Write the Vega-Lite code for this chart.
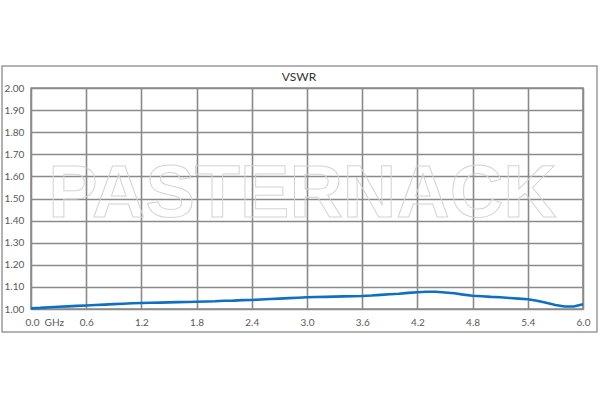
{
  "$schema": "https://vega.github.io/schema/vega-lite/v6.json",
  "autosize": "none",
  "width": 552,
  "height": 221,
  "padding": {"left": 31, "top": 88, "right": 17, "bottom": 91},
  "background": "white",
  "config": {
    "view": {"stroke": "#8a8a8a", "strokeWidth": 1.6},
    "axis": {"labelFont": "Lato", "labelFontSize": 10, "labelColor": "#595959", "gridColor": "#8a8a8a", "gridWidth": 1.6, "gridOpacity": 1, "domain": false, "ticks": false, "tickSize": 0, "title": null, "labelOverlap": false}
  },
  "datasets": {
    "vswr": [
      {"f": 0.0, "v": 1.003}, {"f": 0.1, "v": 1.005}, {"f": 0.2, "v": 1.008}, {"f": 0.3, "v": 1.010},
      {"f": 0.4, "v": 1.012}, {"f": 0.5, "v": 1.014}, {"f": 0.6, "v": 1.016}, {"f": 0.7, "v": 1.018},
      {"f": 0.8, "v": 1.020}, {"f": 0.9, "v": 1.022}, {"f": 1.0, "v": 1.024}, {"f": 1.1, "v": 1.026},
      {"f": 1.2, "v": 1.027}, {"f": 1.3, "v": 1.028}, {"f": 1.4, "v": 1.029}, {"f": 1.5, "v": 1.030},
      {"f": 1.6, "v": 1.031}, {"f": 1.7, "v": 1.032}, {"f": 1.8, "v": 1.033}, {"f": 1.9, "v": 1.034},
      {"f": 2.0, "v": 1.035}, {"f": 2.1, "v": 1.037}, {"f": 2.2, "v": 1.038}, {"f": 2.3, "v": 1.040},
      {"f": 2.4, "v": 1.041}, {"f": 2.5, "v": 1.043}, {"f": 2.6, "v": 1.045}, {"f": 2.7, "v": 1.047},
      {"f": 2.8, "v": 1.049}, {"f": 2.9, "v": 1.051}, {"f": 3.0, "v": 1.053}, {"f": 3.1, "v": 1.054},
      {"f": 3.2, "v": 1.055}, {"f": 3.3, "v": 1.056}, {"f": 3.4, "v": 1.057}, {"f": 3.5, "v": 1.058},
      {"f": 3.6, "v": 1.059}, {"f": 3.7, "v": 1.061}, {"f": 3.8, "v": 1.064}, {"f": 3.9, "v": 1.067},
      {"f": 4.0, "v": 1.069}, {"f": 4.1, "v": 1.073}, {"f": 4.2, "v": 1.076}, {"f": 4.3, "v": 1.078},
      {"f": 4.4, "v": 1.078}, {"f": 4.5, "v": 1.075}, {"f": 4.6, "v": 1.071}, {"f": 4.7, "v": 1.065},
      {"f": 4.8, "v": 1.060}, {"f": 4.9, "v": 1.058}, {"f": 5.0, "v": 1.055}, {"f": 5.1, "v": 1.053},
      {"f": 5.2, "v": 1.050}, {"f": 5.3, "v": 1.047}, {"f": 5.4, "v": 1.044}, {"f": 5.5, "v": 1.037},
      {"f": 5.6, "v": 1.028}, {"f": 5.7, "v": 1.018}, {"f": 5.8, "v": 1.011}, {"f": 5.9, "v": 1.011},
      {"f": 6.0, "v": 1.021}
    ],
    "frame": [{"x1": -0.315, "x2": 6.152, "y1": 0.896, "y2": 2.0995}],
    "labels": [
      {"x": 2.95, "y": 1.516, "t": "PASTERNACK", "kind": "wm"},
      {"x": 2.913, "y": 2.05, "t": "VSWR", "kind": "title"}
    ]
  },
  "layer": [
    {
      "data": {"name": "frame"},
      "mark": {"type": "rect", "fill": null, "stroke": "#9a9a9a", "strokeWidth": 1.5, "clip": false},
      "encoding": {
        "x": {"field": "x1", "type": "quantitative", "scale": {"domain": [0, 6], "nice": false, "zero": false},
              "axis": {"values": [0, 0.6, 1.2, 1.8, 2.4, 3.0, 3.6, 4.2, 4.8, 5.4, 6.0], "tickCount": 30, "format": ".1f", "labelExpr": "datum.value == 0 ? '0.0\u00a0\u00a0GHz' : datum.label", "labelAlign": {"condition": {"test": "datum.value == 0", "value": "left"}, "value": "center"}, "labelOffset": {"condition": {"test": "datum.value == 0", "value": -6}, "value": 0}, "labelPadding": 8, "labelFlush": false}},
        "x2": {"field": "x2"},
        "y": {"field": "y1", "type": "quantitative", "scale": {"domain": [1, 2], "nice": false, "zero": false},
              "axis": {"values": [1, 1.1, 1.2, 1.3, 1.4, 1.5, 1.6, 1.7, 1.8, 1.9, 2.0], "tickCount": 30, "format": ".2f", "labelAlign": "left", "labelPadding": 27}},
        "y2": {"field": "y2"}
      }
    },
    {
      "data": {"name": "labels"},
      "transform": [{"filter": "datum.kind == 'wm'"}],
      "mark": {"type": "text", "font": "Liberation Sans", "fontWeight": "bold", "fontSize": 74, "fillOpacity": 0, "stroke": "#d4d4d4", "strokeWidth": 1, "align": "center", "baseline": "middle"},
      "encoding": {
        "x": {"field": "x", "type": "quantitative"},
        "y": {"field": "y", "type": "quantitative"},
        "text": {"field": "t"}
      }
    },
    {
      "data": {"name": "labels"},
      "transform": [{"filter": "datum.kind == 'title'"}],
      "mark": {"type": "text", "font": "Lato", "fontSize": 12, "fill": "#333333", "align": "center", "baseline": "middle", "clip": false},
      "encoding": {
        "x": {"field": "x", "type": "quantitative"},
        "y": {"field": "y", "type": "quantitative"},
        "text": {"field": "t"}
      }
    },
    {
      "data": {"name": "vswr"},
      "mark": {"type": "line", "color": "#0f6fc0", "strokeWidth": 2.6},
      "encoding": {
        "x": {"field": "f", "type": "quantitative"},
        "y": {"field": "v", "type": "quantitative"}
      }
    }
  ]
}
